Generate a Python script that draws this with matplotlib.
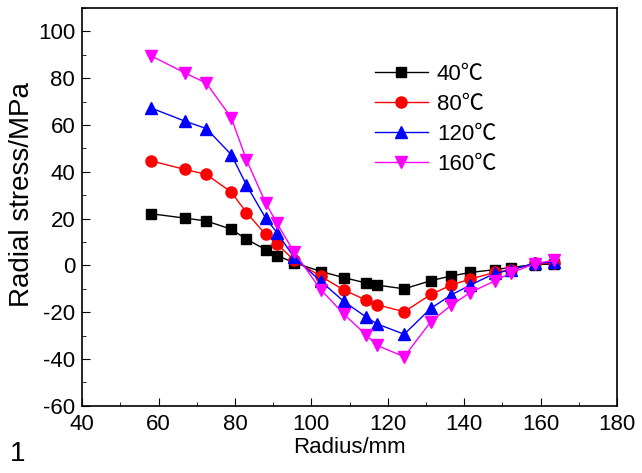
import numpy as np
import matplotlib
matplotlib.use('Agg')
from matplotlib import pyplot as plt
from matplotlib.ticker import MultipleLocator

plt.rcParams['font.family'] = ['Liberation Sans', 'Noto Sans CJK SC', 'DejaVu Sans']
plt.rcParams['axes.unicode_minus'] = False

radius = [58, 67, 72.5, 79, 83, 88, 91, 95.5, 102.5, 108.5, 114.3, 117.2, 124.3,
          131.3, 136.6, 141.6, 148, 152.2, 158.6, 163.6]
s40 = [22.1, 20.2, 19.0, 15.5, 11.2, 6.8, 4.2, 1.2, -2.6, -5.2, -7.5, -8.4, -10.0,
       -6.5, -4.5, -3.0, -1.8, -0.9, 0.4, 0.6]
s80 = [44.7, 41.0, 38.9, 31.4, 22.6, 13.3, 9.2, 2.2, -4.7, -10.5, -14.8, -16.8, -19.8,
       -12.4, -8.4, -5.8, -3.0, -1.9, 0.9, 1.0]
s120 = [67.3, 61.6, 58.5, 47.4, 34.4, 20.3, 14.0, 3.4, -6.8, -15.4, -22.0, -25.0, -29.4,
        -18.3, -12.6, -8.4, -3.4, -1.9, 1.0, 1.4]
s160 = [89.6, 82.2, 77.9, 63.2, 45.2, 26.8, 18.0, 5.6, -10.4, -20.8, -29.6, -34.2, -39.0,
        -24.0, -17.0, -11.6, -6.6, -3.2, 0.8, 2.2]

labels = ['40℃', '80℃', '120℃', '160℃']
colors = ['black', 'red', 'blue', 'magenta']
markers = ['s', 'o', '^', 'v']
sizes = [7, 8, 8.5, 8.5]

fig = plt.figure(figsize=(6.42, 4.73), dpi=100)
ax = fig.add_axes([0.128, 0.142, 0.833, 0.841])

for ys, lab, c, m, ms in zip([s40, s80, s120, s160], labels, colors, markers, sizes):
    ax.plot(radius, ys, color=c, marker=m, markersize=ms, linewidth=1.0, label=lab)

ax.set_xlim(40, 180)
ax.set_ylim(-60, 110)
ax.xaxis.set_major_locator(MultipleLocator(20))
ax.xaxis.set_minor_locator(MultipleLocator(10))
ax.yaxis.set_minor_locator(MultipleLocator(10))
ax.set_yticks(np.arange(-60, 101, 20))
ax.tick_params(which='both', direction='in', top=False, right=False, labelsize=16)
ax.tick_params(axis='x', pad=6)
ax.tick_params(axis='y', pad=5)
ax.tick_params(which='major', length=6)
ax.tick_params(which='minor', length=3)
for sp in ax.spines.values():
    sp.set_linewidth(1.2)

ax.set_xlabel('Radius/mm', fontsize=16, labelpad=1)
ax.set_ylabel('Radial stress/MPa', fontsize=20)
ax.yaxis.set_label_coords(-0.128 + 21 / 535, 0.53)

ax.legend(loc='upper left', bbox_to_anchor=(0.518, 0.898), frameon=False, fontsize=16,
          handlelength=2.4, labelspacing=0.4, handletextpad=0.4, borderpad=0.2)

fig.text(0.015, 0.025, '1', fontsize=20)

fig.savefig('out.png', dpi=100)
